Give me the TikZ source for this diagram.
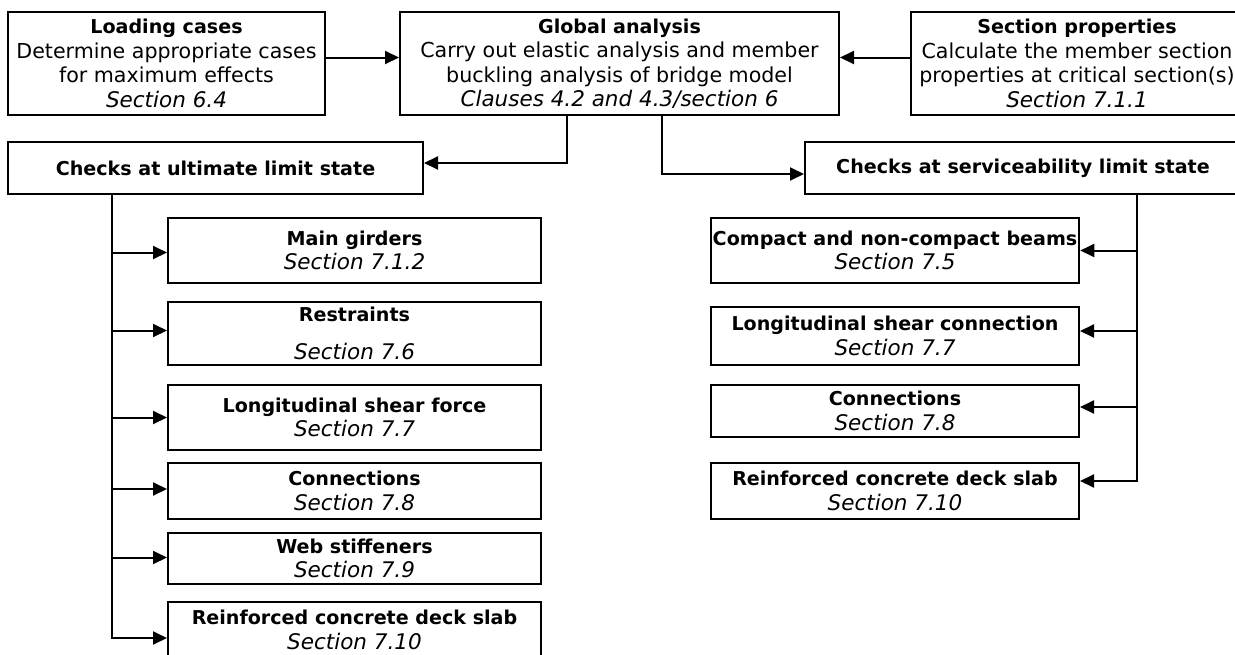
\documentclass[tikz,border=0pt]{standalone}
\usepackage{fontspec}
\setmainfont{DejaVu Sans}
\usetikzlibrary{arrows.meta}

\newcommand{\heading}[1]{{\fontsize{19.1}{24.5}\selectfont\bfseries #1}}
\newcommand{\clause}[1]{{\fontsize{21.5}{24.5}\selectfont\itshape #1}}

\begin{document}
\begin{tikzpicture}[x=1pt,y=-1pt,>={Triangle[length=14pt,width=13pt]},
  line width=2pt,
  block/.style={draw,fill=white,align=center,inner sep=2pt,
    font=\fontsize{20.6}{24.5}\selectfont}]

  \useasboundingbox (0,0) rectangle (1235,654);

  % top row
  \node[block,minimum width=317pt,minimum height=103pt] (load) at (166.5,63.5)
    {\heading{Loading cases}\\Determine appropriate cases\\for maximum effects\\\clause{Section 6.4}};
  \node[block,minimum width=439pt,minimum height=103pt] (glob) at (619.5,63.5)
    {\heading{Global analysis}\\Carry out elastic analysis and member\\buckling analysis of bridge model\\\clause{Clauses 4.2 and 4.3/section 6}};
  \node[block,minimum width=332pt,minimum height=103pt] (prop) at (1077,63.5)
    {\heading{Section properties}\\Calculate the member section\\properties at critical section(s)\\\clause{Section 7.1.1}};

  % limit states
  \node[block,minimum width=415pt,minimum height=52pt] (uls) at (215.5,168)
    {\heading{Checks at ultimate limit state}};
  \node[block,minimum width=436pt,minimum height=52pt] (sls) at (1023,168)
    {\heading{Checks at serviceability limit state}};

  % ultimate checks
  \node[block,minimum width=373pt,minimum height=65pt] (girder) at (354.5,250.5)
    {\heading{Main girders}\\\clause{Section 7.1.2}};
  \node[block,minimum width=373pt,minimum height=63pt] (restr) at (354.5,333.5)
    {\heading{Restraints}\\[14pt]\clause{Section 7.6}};
  \node[block,minimum width=373pt,minimum height=65pt] (shear) at (354.5,417.5)
    {\heading{Longitudinal shear force}\\\clause{Section 7.7}};
  \node[block,minimum width=373pt,minimum height=56pt] (conn) at (354.5,491)
    {\heading{Connections}\\\clause{Section 7.8}};
  \node[block,minimum width=373pt,minimum height=51pt] (web) at (354.5,558.5)
    {\heading{Web stiffeners}\\\clause{Section 7.9}};
  \node[block,minimum width=373pt,minimum height=56pt] (slab) at (354.5,630)
    {\heading{Reinforced concrete deck slab}\\\clause{Section 7.10}};

  % serviceability checks
  \node[block,minimum width=368pt,minimum height=65pt] (compact) at (895,250.5)
    {\heading{Compact and non-compact beams}\\\clause{Section 7.5}};
  \node[block,minimum width=368pt,minimum height=58pt] (conshear) at (895,336)
    {\heading{Longitudinal shear connection}\\\clause{Section 7.7}};
  \node[block,minimum width=368pt,minimum height=52pt] (sconn) at (895,411)
    {\heading{Connections}\\\clause{Section 7.8}};
  \node[block,minimum width=368pt,minimum height=56pt] (sslab) at (895,491)
    {\heading{Reinforced concrete deck slab}\\\clause{Section 7.10}};

  \draw[->] ([yshift=6pt]load.east) -- ([yshift=6pt]glob.west);
  \draw[->] ([yshift=6pt]prop.west) -- ([yshift=6pt]glob.east);
  \draw[->] ([xshift=-52.5pt]glob.south) |- ([yshift=5pt]uls.east);
  \draw[->] ([xshift=42.5pt]glob.south) |- ([yshift=-6pt]sls.west);

  \foreach \n/\s in {girder/-2,restr/3,shear/0,conn/2,web/1,slab/-8}
    \draw[->] ([xshift=-103.5pt]uls.south) |- ([yshift=\s pt]\n.west);
  \foreach \n/\s in {compact/0,conshear/5,sconn/4,sslab/10}
    \draw[->] ([xshift=114pt]sls.south) |- ([yshift=\s pt]\n.east);
\end{tikzpicture}
\end{document}
